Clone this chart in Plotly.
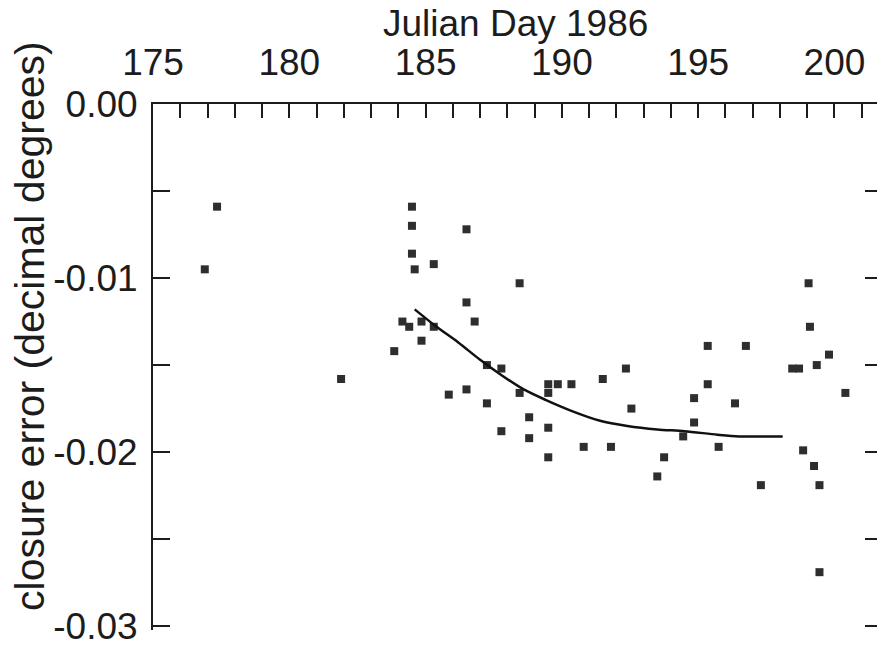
import plotly.graph_objects as go

# Daily closure error measurements (Julian day, decimal degrees)
day = [176.9, 177.35, 181.9, 183.85, 184.15, 184.4, 184.5, 184.5, 184.5, 184.6,
       184.85, 184.85, 185.3, 185.3, 185.85, 186.5, 186.5, 186.5, 186.8, 187.25,
       187.25, 187.78, 187.78, 188.45, 188.45, 188.8, 188.8, 189.5, 189.5, 189.5,
       189.5, 189.85, 190.35, 190.8, 191.5, 191.8, 192.35, 192.55, 193.5, 193.75,
       194.45, 194.85, 194.85, 195.35, 195.35, 195.75, 196.35, 196.75, 197.3, 198.45,
       198.7, 198.85, 199.05, 199.1, 199.25, 199.35, 199.45, 199.45, 199.8, 200.4]
closure = [-0.0095, -0.0059, -0.0158, -0.0142, -0.0125, -0.0128, -0.0059, -0.0070, -0.0086, -0.0095,
           -0.0125, -0.0136, -0.0092, -0.0128, -0.0167, -0.0072, -0.0114, -0.0164, -0.0125, -0.0150,
           -0.0172, -0.0152, -0.0188, -0.0103, -0.0166, -0.0180, -0.0192, -0.0161, -0.0166, -0.0186,
           -0.0203, -0.0161, -0.0161, -0.0197, -0.0158, -0.0197, -0.0152, -0.0175, -0.0214, -0.0203,
           -0.0191, -0.0169, -0.0183, -0.0139, -0.0161, -0.0197, -0.0172, -0.0139, -0.0219, -0.0152,
           -0.0152, -0.0199, -0.0103, -0.0128, -0.0208, -0.0150, -0.0219, -0.0269, -0.0144, -0.0166]

# Smoothed trend
trend_day = [184.6, 185.4, 186.2, 187.0, 187.8, 188.6, 189.4, 190.3, 191.4,
             192.4, 193.5, 194.5, 195.7, 196.5, 198.1]
trend_val = [-0.0118, -0.0128, -0.0137, -0.0147, -0.0156, -0.0164, -0.0170, -0.0176, -0.0182,
             -0.0185, -0.0187, -0.0188, -0.0190, -0.0191, -0.0191]

x_ticks = list(range(175, 202))
x_labels = [str(d) if d % 5 == 0 else "" for d in x_ticks]
y_ticks = [0.0, -0.005, -0.01, -0.015, -0.02, -0.025, -0.03]
y_labels = ["0.00", "", "-0.01", "", "-0.02", "", "-0.03"]

FONT = "Liberation Sans, Arial, Helvetica, sans-serif"
INK = "#1c1c1c"
FS = 37
# plot area runs a few pixels below -0.03 so that its end tick is drawn
Y_RANGE = [-0.030223, 0.0]

fig = go.Figure()
fig.add_trace(go.Scatter(
    x=day, y=closure, mode="markers",
    marker=dict(symbol="square", size=8, color="#2e2e2e", line=dict(width=0)),
    showlegend=False, hoverinfo="skip"))
fig.add_trace(go.Scatter(
    x=trend_day, y=trend_val, mode="lines",
    line=dict(color="#111", width=2.5, shape="spline", smoothing=0.8),
    showlegend=False, hoverinfo="skip"))
# invisible trace to carry the right-hand tick axis
fig.add_trace(go.Scatter(x=[day[0]], y=[closure[0]], yaxis="y2", mode="markers",
                         marker=dict(opacity=0), showlegend=False, hoverinfo="skip"))

fig.update_layout(
    width=877, height=647,
    margin=dict(l=153, r=0, t=104, b=15),
    paper_bgcolor="white", plot_bgcolor="white",
    font=dict(family=FONT, size=FS, color=INK),
    xaxis=dict(side="top", range=[175, 201.56], tickvals=x_ticks, ticktext=x_labels,
               ticks="inside", ticklen=14, tickwidth=2, tickcolor=INK,
               showline=True, linewidth=2, linecolor=INK, mirror=False,
               showgrid=False, zeroline=False, tickfont=dict(size=FS),
               ticklabelstandoff=12, ticklabeloverflow="allow"),
    yaxis=dict(range=Y_RANGE, tickvals=y_ticks, ticktext=y_labels,
               ticks="inside", ticklen=17, tickwidth=2, tickcolor=INK,
               showline=True, linewidth=2, linecolor=INK,
               showgrid=False, zeroline=False, tickfont=dict(size=FS),
               ticklabelstandoff=6, ticklabeloverflow="allow"),
    yaxis2=dict(range=Y_RANGE, overlaying="y", side="right", tickvals=y_ticks,
                ticks="inside", ticklen=12, tickwidth=2, tickcolor=INK,
                showticklabels=False, showline=False, showgrid=False, zeroline=False),
    annotations=[
        dict(text="Julian Day 1986", xref="paper", yref="paper", x=0.5, y=1.153,
             xanchor="center", yanchor="middle", showarrow=False, font=dict(size=FS)),
        dict(text="closure error (decimal degrees)", xref="paper", yref="paper",
             x=(30 - 153) / 724, y=0.578, xanchor="center", yanchor="middle",
             textangle=-90, showarrow=False, font=dict(size=41)),
    ],
)

fig.write_html("out.html")
